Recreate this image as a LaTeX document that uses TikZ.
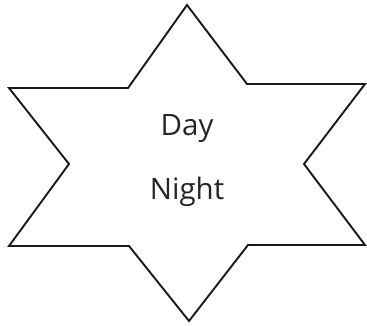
\documentclass[tikz,border=0pt]{standalone}
\usepackage{fontspec}
\setmainfont{Open Sans}
\begin{document}
\begin{tikzpicture}[x=1pt,y=-1pt,
  star/.style={draw=black!90, line width=1.9pt, line join=miter},
  lbl/.style={font=\fontsize{29.5}{34}\selectfont, text=black!85, inner sep=0pt, anchor=base}]
\useasboundingbox (0,0) rectangle (367,326);
\coordinate (t) at (187,5);
\coordinate (ul) at (128,88);
\coordinate (olu) at (9,88);
\coordinate (il) at (69,164);
\coordinate (oll) at (9,246);
\coordinate (ll) at (129,246);
\coordinate (b) at (189,321);
\coordinate (lr) at (248,245);
\coordinate (olr) at (365,245);
\coordinate (ir) at (304,164);
\coordinate (our) at (365,84);
\coordinate (ur) at (247,84);
\draw[star] (t) -- (ur) -- (our) -- (ir) -- (olr) -- (lr) -- (b) -- (ll) -- (oll) -- (il) -- (olu) -- (ul) -- cycle;
\node[lbl] (day) at (187,136) {Day};
\node[lbl] (night) at (187,200) {Night};
\end{tikzpicture}
\end{document}
